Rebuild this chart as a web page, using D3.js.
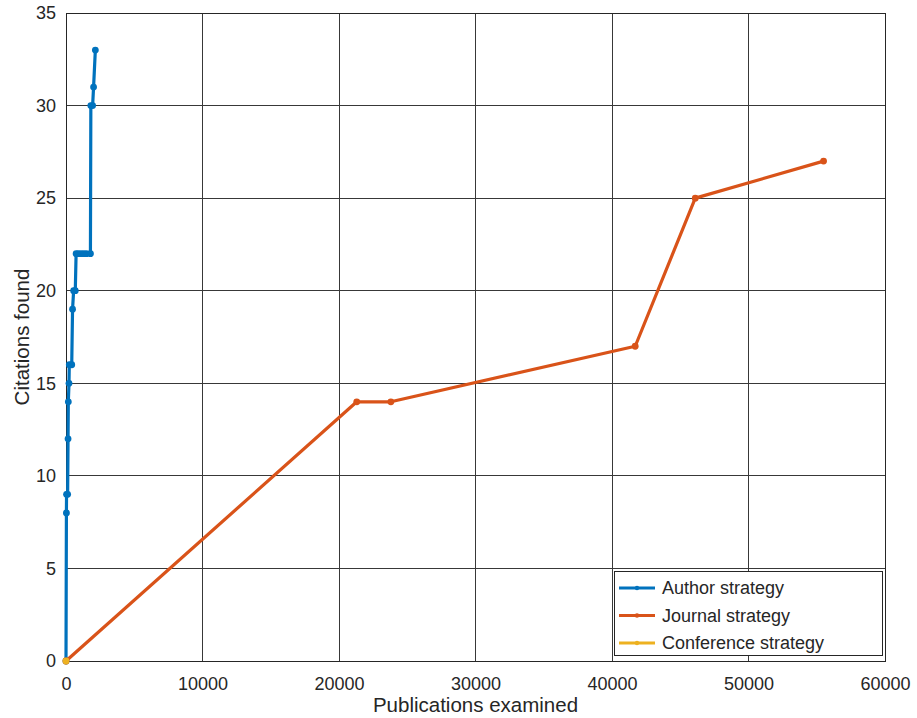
<!DOCTYPE html>
<html>
<head>
<meta charset="utf-8">
<script src="https://cdn.jsdelivr.net/npm/d3@7"></script>
<style>
  html, body { margin: 0; padding: 0; background: #fff; }
  svg { display: block; font-family: "Liberation Sans", Arial, Helvetica, sans-serif; }
</style>
</head>
<body>
<svg id="chart" width="917" height="718"></svg>
<script>
// Cumulative citations found versus publications examined, per search strategy
const authorPubs      = [0, 30, 40, 120, 150, 170, 220, 240, 420, 480, 560, 680, 740, 900, 1100, 1300, 1500, 1790, 1820, 1950, 2020, 2150];
const authorCitations = [0, 8, 9, 9, 12, 14, 15, 16, 16, 19, 20, 20, 22, 22, 22, 22, 22, 22, 30, 30, 31, 33];

const journalPubs      = [0, 21300, 23800, 41700, 46100, 55500];
const journalCitations = [0, 14, 14, 17, 25, 27];

const conferencePubs      = [0];
const conferenceCitations = [0];

const seriesNames  = ["Author strategy", "Journal strategy", "Conference strategy"];
const seriesColors = ["#0072BD", "#D95319", "#EDB120"];

const xTicks = [0, 10000, 20000, 30000, 40000, 50000, 60000];
const yTicks = [0, 5, 10, 15, 20, 25, 30, 35];

const series = [
  { name: seriesNames[0], color: seriesColors[0], pts: authorPubs.map((x, i) => [x, authorCitations[i]]) },
  { name: seriesNames[1], color: seriesColors[1], pts: journalPubs.map((x, i) => [x, journalCitations[i]]) },
  { name: seriesNames[2], color: seriesColors[2], pts: conferencePubs.map((x, i) => [x, conferenceCitations[i]]) }
];

const svg = d3.select("#chart");
const m = { left: 66, right: 32, top: 13, bottom: 57 };
const W = 917, H = 718;
const x = d3.scaleLinear().domain([0, 60000]).range([m.left, W - m.right]);
const y = d3.scaleLinear().domain([0, 35]).range([H - m.bottom, m.top]);

const textColor = "#262626";
const gridColor = "#383838";

// grid
const grid = svg.append("g");
grid.selectAll("line.gx").data(xTicks).join("line")
  .attr("x1", d => x(d)).attr("x2", d => x(d))
  .attr("y1", y(0)).attr("y2", y(35))
  .attr("stroke", gridColor).attr("stroke-width", 1).attr("shape-rendering", "crispEdges");
grid.selectAll("line.gy").data(yTicks).join("line")
  .attr("y1", d => y(d)).attr("y2", d => y(d))
  .attr("x1", x(0)).attr("x2", x(60000))
  .attr("stroke", gridColor).attr("stroke-width", 1).attr("shape-rendering", "crispEdges");

// axes
const xAxis = d3.axisBottom(x).tickValues(xTicks).tickFormat(d3.format("d")).tickSize(0).tickPadding(16);
const yAxis = d3.axisLeft(y).tickValues(yTicks).tickFormat(d3.format("d")).tickSize(0).tickPadding(10);

const gx = svg.append("g").attr("transform", `translate(0,${y(0)})`).call(xAxis);
const gy = svg.append("g").attr("transform", `translate(${x(0)},0)`).call(yAxis);
[gx, gy].forEach(g => {
  g.select(".domain").remove();
  g.selectAll("text").attr("fill", textColor).style("font-size", "18px");
});

// box
svg.append("rect")
  .attr("x", x(0)).attr("y", y(35))
  .attr("width", x(60000) - x(0)).attr("height", y(0) - y(35))
  .attr("fill", "none").attr("stroke", textColor).attr("stroke-width", 1)
  .attr("shape-rendering", "crispEdges");

// axis titles
svg.append("text")
  .attr("x", (x(0) + x(60000)) / 2).attr("y", 712)
  .attr("text-anchor", "middle").attr("fill", textColor).style("font-size", "20.5px")
  .text("Publications examined");
svg.append("text")
  .attr("transform", `translate(29,${(y(0) + y(35)) / 2}) rotate(-90)`)
  .attr("text-anchor", "middle").attr("fill", textColor).style("font-size", "20.5px")
  .text("Citations found");

// series lines and markers
const line = d3.line().x(d => x(d[0])).y(d => y(d[1]));
series.forEach(s => {
  const g = svg.append("g");
  if (s.pts.length > 1) {
    g.append("path").datum(s.pts)
      .attr("d", line).attr("fill", "none")
      .attr("stroke", s.color).attr("stroke-width", 3.2)
      .attr("stroke-linejoin", "round");
  }
  g.selectAll("circle").data(s.pts).join("circle")
    .attr("cx", d => x(d[0])).attr("cy", d => y(d[1])).attr("r", 3.4)
    .attr("fill", s.color);
});

// legend
const lg = svg.append("g").attr("transform", "translate(614,571)");
lg.append("rect").attr("width", 268).attr("height", 84)
  .attr("fill", "#fff").attr("stroke", textColor).attr("stroke-width", 1)
  .attr("shape-rendering", "crispEdges");
series.forEach((s, i) => {
  const cy = 17 + i * 27.5;
  lg.append("line").attr("x1", 5).attr("x2", 41).attr("y1", cy).attr("y2", cy)
    .attr("stroke", s.color).attr("stroke-width", 3.2);
  lg.append("circle").attr("cx", 23).attr("cy", cy).attr("r", 2.2).attr("fill", s.color);
  lg.append("text").attr("x", 48).attr("y", cy).attr("dy", "0.35em")
    .attr("fill", textColor).style("font-size", "18px").text(s.name);
});
</script>
</body>
</html>
